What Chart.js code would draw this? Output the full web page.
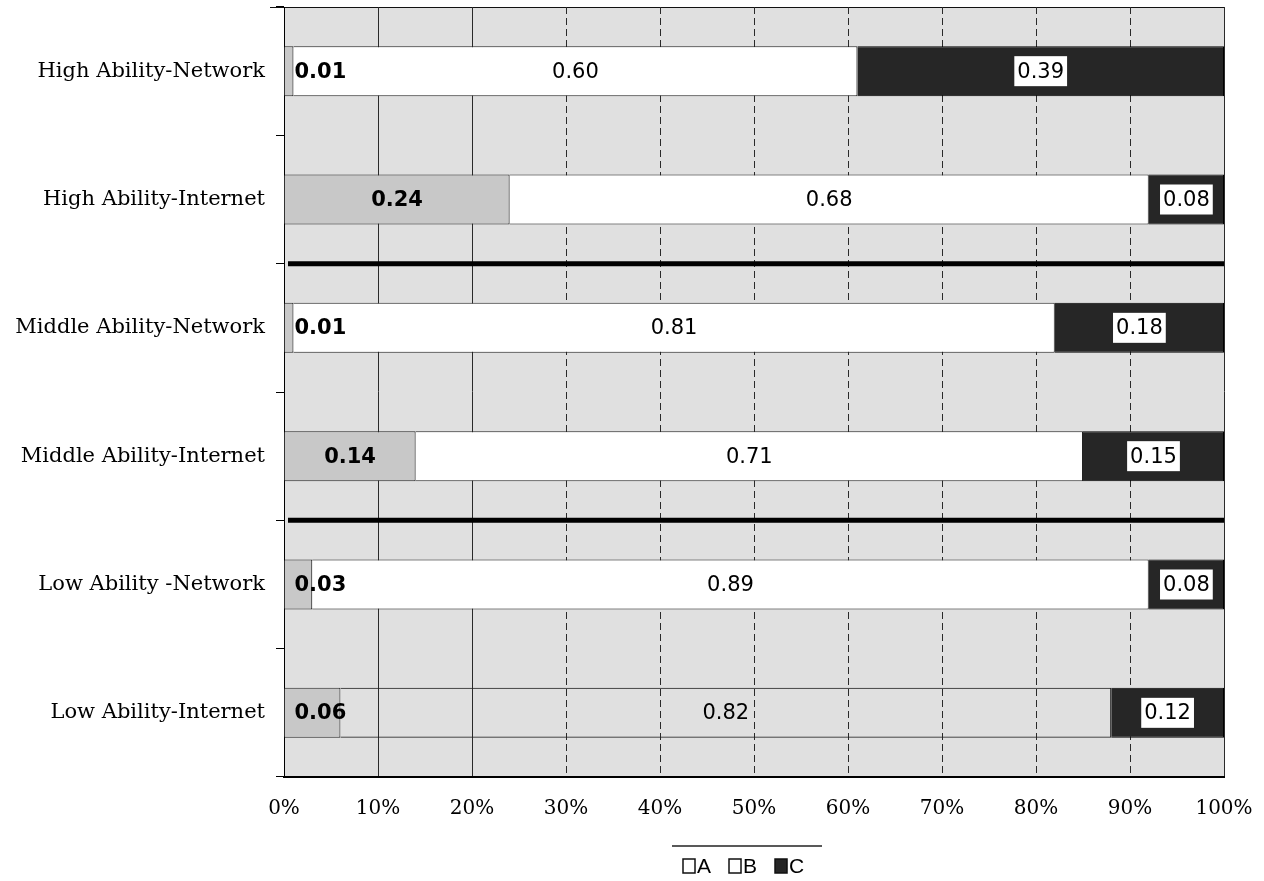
<!DOCTYPE html>
<html>
<head>
<meta charset="utf-8">
<script src="https://cdn.jsdelivr.net/npm/chart.js@4.4.1/dist/chart.umd.min.js"></script>
<style>
  html, body { margin: 0; padding: 0; background: #ffffff; }
  #wrap { width: 1264px; height: 881px; position: relative; }
</style>
</head>
<body>
<div id="wrap"><canvas id="c" width="1264" height="881"></canvas></div>
<script>
const categories = [
  'High Ability-Network',
  'High Ability-Internet',
  'Middle Ability-Network',
  'Middle Ability-Internet',
  'Low Ability -Network',
  'Low Ability-Internet'
];
const seriesNames = ['A', 'B', 'C'];
const valuesA = [0.01, 0.24, 0.01, 0.14, 0.03, 0.06];
const valuesB = [0.60, 0.68, 0.81, 0.71, 0.89, 0.82];
const valuesC = [0.39, 0.08, 0.18, 0.15, 0.08, 0.12];
const xTickValues = [0, 0.1, 0.2, 0.3, 0.4, 0.5, 0.6, 0.7, 0.8, 0.9, 1.0];
const groupSeparatorsAfter = [1, 3];

const bgPlugin = {
  id: 'plotBg',
  beforeDraw(chart) {
    const { ctx, chartArea: a } = chart;
    ctx.save();
    ctx.fillStyle = '#e0e0e0';
    ctx.fillRect(a.left, a.top, a.right - a.left, a.bottom - a.top);
    ctx.strokeStyle = '#111';
    ctx.lineWidth = 1;
    ctx.beginPath();
    ctx.moveTo(a.left - 14, a.top + 0.5);
    ctx.lineTo(a.right, a.top + 0.5);
    ctx.stroke();
    ctx.restore();
  }
};

const sepPlugin = {
  id: 'separators',
  afterDatasetsDraw(chart) {
    const { ctx, chartArea: a, scales } = chart;
    const y = scales.y;
    ctx.save();
    ctx.strokeStyle = '#000';
    ctx.lineWidth = 5;
    groupSeparatorsAfter.forEach(i => {
      const py = (y.getPixelForValue(i) + y.getPixelForValue(i + 1)) / 2;
      ctx.beginPath();
      ctx.moveTo(a.left + 4, py);
      ctx.lineTo(a.right, py);
      ctx.stroke();
    });
    ctx.restore();
  }
};

const labelPlugin = {
  id: 'barLabels',
  afterDatasetsDraw(chart) {
    const { ctx } = chart;
    ctx.save();
    ctx.textBaseline = 'middle';
    ctx.textAlign = 'center';
    chart.data.datasets.forEach((ds, di) => {
      const meta = chart.getDatasetMeta(di);
      meta.data.forEach((el, i) => {
        const v = ds.data[i];
        const txt = v.toFixed(2);
        let cx = (el.x + el.base) / 2;
        ctx.font = (di === 0 ? 'bold ' : '') + '21px "DejaVu Sans", sans-serif';
        const w = ctx.measureText(txt).width;
        if (di === 0) {
          cx = Math.max(cx, el.base + w / 2 + 10);
        }
        if (di === 2) {
          cx = Math.min(cx, el.x - w / 2 + 4);
          ctx.fillStyle = '#ffffff';
          ctx.fillRect(cx - w / 2 - 3, el.y - 15, w + 6, 30);
        }
        ctx.fillStyle = '#000';
        ctx.fillText(txt, cx, el.y + 1);
      });
    });
    ctx.restore();
  }
};

const legendPlugin = {
  id: 'customLegend',
  afterDraw(chart) {
    const { ctx } = chart;
    const ds = chart.data.datasets;
    ctx.save();
    ctx.strokeStyle = '#222';
    ctx.lineWidth = 1.5;
    ctx.beginPath();
    ctx.moveTo(672, 846);
    ctx.lineTo(822, 846);
    ctx.stroke();
    ctx.font = '21px "Liberation Sans", Arial, sans-serif';
    ctx.textBaseline = 'middle';
    ctx.textAlign = 'left';
    let x = 683;
    const yc = 866;
    ds.forEach(d => {
      const fill = Array.isArray(d.backgroundColor) ? d.backgroundColor[0] : d.backgroundColor;
      ctx.fillStyle = d.label === 'C' ? fill : '#ffffff';
      ctx.fillRect(x, yc - 7, 12, 14);
      ctx.strokeStyle = '#111';
      ctx.lineWidth = 1.5;
      ctx.strokeRect(x, yc - 7, 12, 14);
      ctx.fillStyle = '#000';
      ctx.fillText(d.label, x + 14, yc + 1);
      x += 14 + ctx.measureText(d.label).width + 18;
    });
    ctx.restore();
  }
};

const ctx = document.getElementById('c').getContext('2d');
new Chart(ctx, {
  type: 'bar',
  data: {
    labels: categories,
    datasets: [
      { label: seriesNames[0], data: valuesA, backgroundColor: '#c8c8c8', borderColor: '#222', borderWidth: 1 },
      { label: seriesNames[1], data: valuesB,
        backgroundColor: ['#ffffff', '#ffffff', '#ffffff', '#ffffff', '#ffffff', 'rgba(0,0,0,0)'],
        borderColor: '#222', borderWidth: 1 },
      { label: seriesNames[2], data: valuesC, backgroundColor: '#262626', borderColor: '#000', borderWidth: 1 }
    ]
  },
  options: {
    indexAxis: 'y',
    responsive: false,
    animation: false,
    devicePixelRatio: 1,
    layout: { padding: { left: 0, right: 40, top: 7, bottom: 54 } },
    datasets: { bar: { barPercentage: 0.39, categoryPercentage: 1.0 } },
    scales: {
      x: {
        stacked: true,
        min: 0,
        max: 1,
        afterBuildTicks(scale) { scale.ticks = xTickValues.map(v => ({ value: v })); },
        afterFit(scale) { scale.height = 50; scale.paddingLeft = 0; scale.paddingRight = 0; },
        ticks: {
          color: '#000',
          padding: 20,
          font: { family: '"DejaVu Serif", serif', size: 20 },
          callback: v => Math.round(v * 100) + '%'
        },
        grid: { color: '#2a2a2a', lineWidth: 1, drawTicks: false },
        border: {
          color: '#000', width: 2,
          dash: c => (c.tick && c.tick.value > 0.25 && c.tick.value < 0.95) ? [7, 4] : []
        }
      },
      y: {
        stacked: true,
        afterFit(scale) { scale.width = 284; scale.paddingTop = 0; scale.paddingBottom = 0; },
        ticks: {
          color: '#000',
          padding: 11,
          font: { family: '"DejaVu Serif", "Liberation Serif", serif', size: 21 }
        },
        grid: { drawOnChartArea: false, offset: true, tickLength: 8, color: '#000' },
        border: { color: '#000', width: 1 }
      }
    },
    plugins: {
      legend: { display: false },
      tooltip: { enabled: false }
    }
  },
  plugins: [bgPlugin, sepPlugin, labelPlugin, legendPlugin]
});
</script>
</body>
</html>
